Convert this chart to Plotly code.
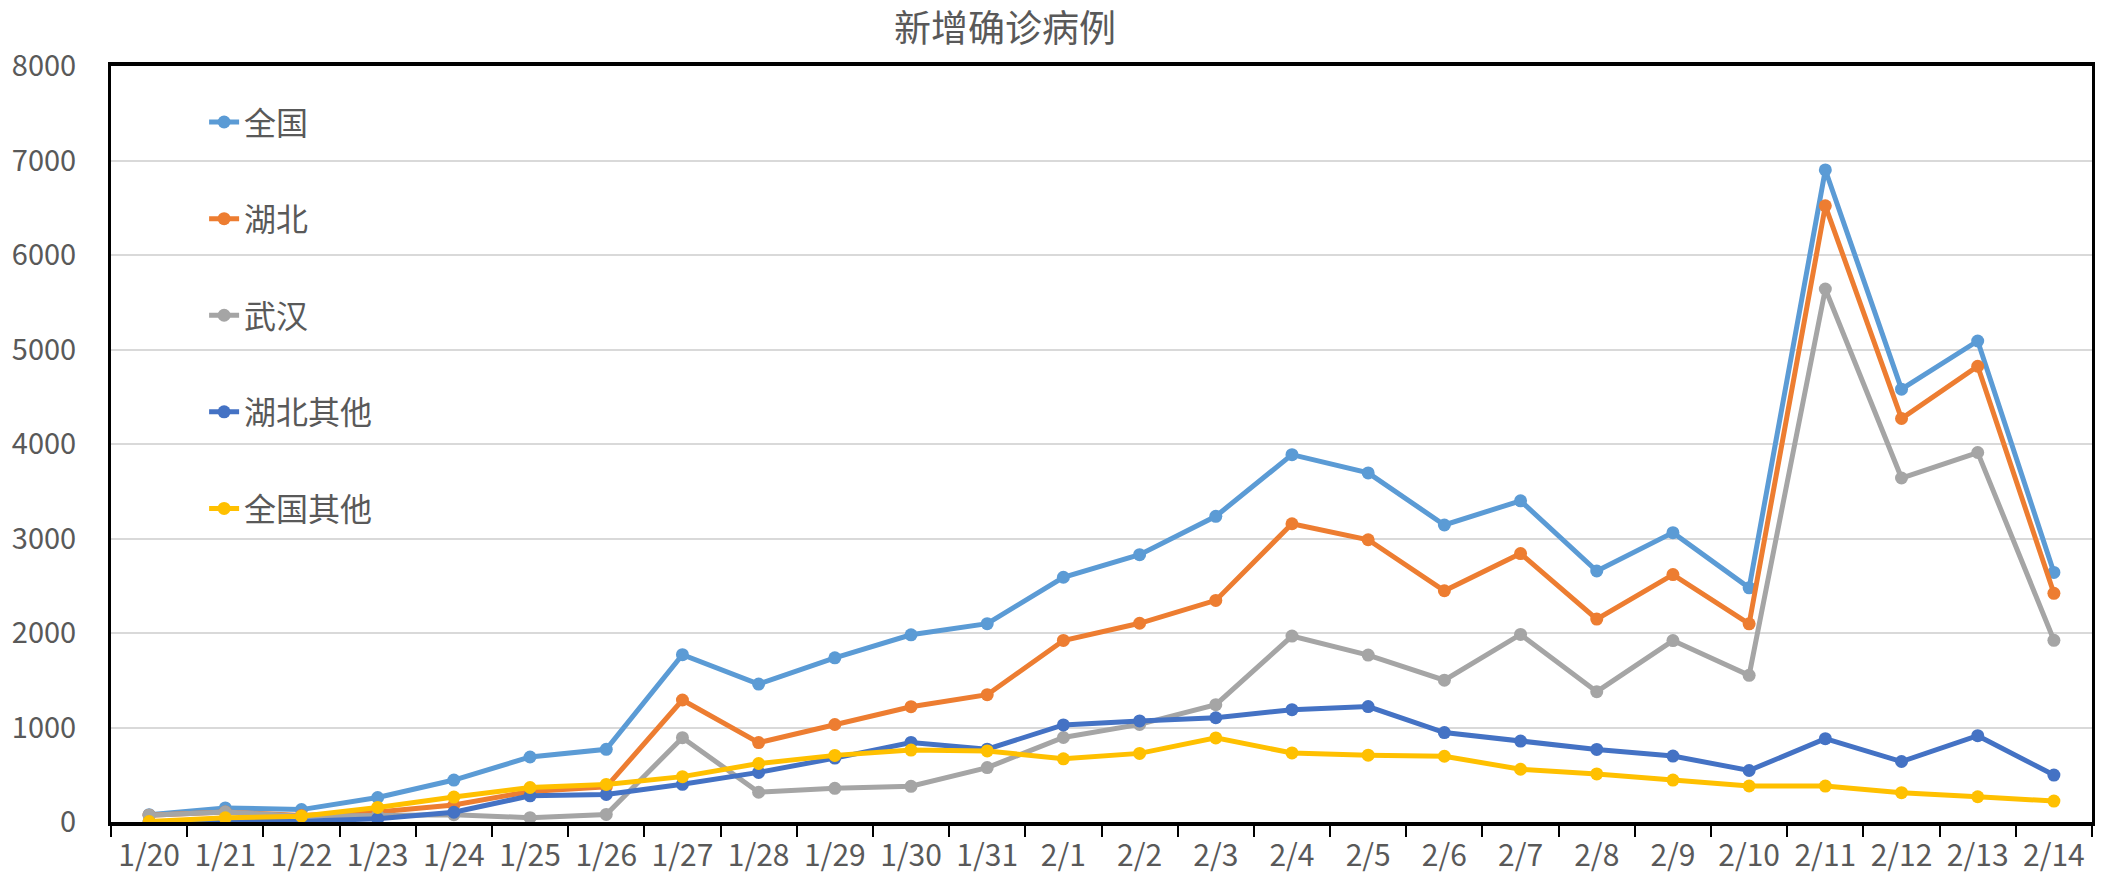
import plotly.graph_objects as go

dates = ["1/20", "1/21", "1/22", "1/23", "1/24", "1/25", "1/26", "1/27", "1/28", "1/29",
         "1/30", "1/31", "2/1", "2/2", "2/3", "2/4", "2/5", "2/6", "2/7", "2/8",
         "2/9", "2/10", "2/11", "2/12", "2/13", "2/14"]

national = [77, 149, 131, 259, 444, 688, 769, 1771, 1459, 1737,
            1981, 2099, 2590, 2829, 3235, 3887, 3694, 3143, 3399, 2656,
            3062, 2478, 6900, 4580, 5090, 2641]
hubei = [72, 105, 69, 105, 180, 323, 371, 1291, 840, 1032,
         1220, 1347, 1921, 2103, 2345, 3156, 2987, 2447, 2841, 2147,
         2618, 2097, 6520, 4270, 4823, 2420]
wuhan = [72, 105, 62, 70, 77, 46, 80, 892, 315, 356,
         378, 576, 894, 1033, 1242, 1967, 1766, 1501, 1985, 1379,
         1920, 1552, 5640, 3640, 3910, 1923]
hubei_other = [0, 0, 7, 35, 103, 277, 291, 399, 525, 676,
               842, 771, 1027, 1070, 1103, 1189, 1221, 946, 856, 768,
               698, 545, 882, 640, 913, 497]
national_other = [5, 44, 62, 154, 264, 365, 398, 480, 619, 705,
                  761, 752, 669, 726, 890, 731, 707, 696, 558, 509,
                  444, 381, 380, 310, 267, 221]

series_names = ["全国", "湖北", "武汉", "湖北其他", "全国其他"]
series_values = [national, hubei, wuhan, hubei_other, national_other]
series_colors = ["#5B9BD5", "#ED7D31", "#A5A5A5", "#4472C4", "#FFC000"]

FONT = "Noto Sans CJK SC"
TEXT = "#595959"

fig = go.Figure()
for name, vals, col in zip(series_names, series_values, series_colors):
    fig.add_trace(go.Scatter(
        x=dates, y=vals, name=name, mode="lines+markers",
        legendgroup=name,
        line=dict(color=col, width=5),
        marker=dict(color=col, size=13, symbol="circle"),
    ))

fig.update_layout(
    width=2109, height=894,
    margin=dict(l=105, r=17, t=66, b=72),
    paper_bgcolor="white", plot_bgcolor="white",
    font=dict(family=FONT, size=29, color=TEXT),
    title=dict(text="新增确诊病例", font=dict(family=FONT, size=37, color=TEXT),
               xref="container", yref="container", x=0.4765, y=1 - 29 / 894,
               xanchor="center", yanchor="middle"),
    showlegend=True,
    legend=dict(x=0.047, y=0.962, xanchor="left", yanchor="top",
                bgcolor="rgba(0,0,0,0)", traceorder="grouped",
                tracegroupgap=52, font=dict(family=FONT, size=32, color=TEXT)),
    shapes=[dict(type="rect", xref="paper", yref="paper",
                 x0=0.003, x1=0.1716, y0=0.35, y1=0.955,
                 fillcolor="white", line=dict(width=0), layer="between")],
)

fig.update_xaxes(
    type="category", range=[-0.5, len(dates) - 0.5],
    showline=True, linecolor="black", linewidth=4, mirror=True,
    ticks="outside", tickson="boundaries", ticklen=11, tickwidth=2, tickcolor="black",
    showgrid=False, ticklabelstandoff=4, tickfont=dict(family=FONT, size=30, color=TEXT),
)
fig.update_yaxes(
    range=[0, 8000], dtick=1000, showgrid=True, gridcolor="#D9D9D9", gridwidth=2,
    showline=True, linecolor="black", linewidth=3, mirror=True, zeroline=False,
    ticks="", ticklabelstandoff=26, tickfont=dict(family=FONT, size=29, color=TEXT),
)

fig.write_html("out.html", config={"displayModeBar": False},
               post_script="document.body.style.margin='0';")
